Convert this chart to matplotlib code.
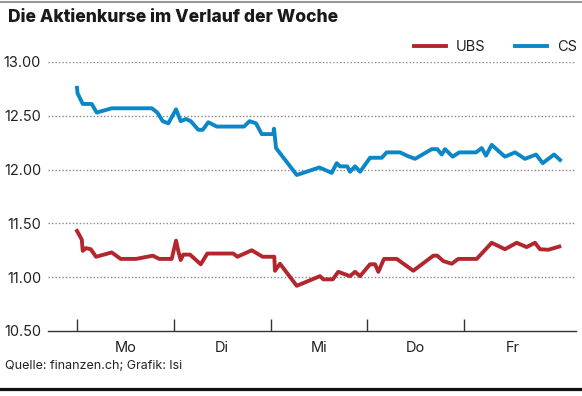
import matplotlib
matplotlib.use("Agg")
import matplotlib.pyplot as plt
from matplotlib.lines import Line2D

plt.rcParams["font.family"] = ["Inter", "DejaVu Sans"]

# Handelstage (Zeit in Tagen ab Montag-Eröffnung)
tage = ["Mo", "Di", "Mi", "Do", "Fr"]
y_ticks = [10.5, 11.0, 11.5, 12.0, 12.5, 13.0]

cs_t = [0.0, 0.005, 0.059, 0.152, 0.203, 0.358, 0.772, 0.830, 0.885, 0.943,
        1.023, 1.071, 1.126, 1.175, 1.253, 1.299, 1.356, 1.443, 1.725, 1.782,
        1.849, 1.908, 2.028, 2.035, 2.056, 2.270, 2.503, 2.631, 2.683, 2.717,
        2.792, 2.820, 2.872, 2.924, 3.027, 3.148, 3.199, 3.337, 3.406, 3.492,
        3.664, 3.722, 3.768, 3.802, 3.881, 3.949, 4.122, 4.181, 4.225, 4.284,
        4.421, 4.525, 4.628, 4.742, 4.811, 4.928, 4.990]
cs_kurs = [12.76, 12.71, 12.61, 12.61, 12.53, 12.57, 12.57, 12.53, 12.45, 12.43,
           12.56, 12.45, 12.47, 12.45, 12.37, 12.37, 12.44, 12.40, 12.40, 12.45,
           12.43, 12.33, 12.33, 12.38, 12.20, 11.95, 12.02, 11.97, 12.06, 12.03,
           12.03, 11.98, 12.03, 11.98, 12.11, 12.11, 12.16, 12.16, 12.13, 12.10,
           12.19, 12.19, 12.14, 12.19, 12.12, 12.16, 12.16, 12.20, 12.13, 12.23,
           12.12, 12.16, 12.10, 12.14, 12.06, 12.14, 12.09]

ubs_t = [0.0, 0.049, 0.059, 0.093, 0.142, 0.196, 0.358, 0.451, 0.610, 0.782,
         0.850, 0.978, 1.023, 1.047, 1.071, 1.098, 1.167, 1.278, 1.346, 1.615,
         1.656, 1.805, 1.918, 2.038, 2.045, 2.097, 2.270, 2.510, 2.544, 2.642,
         2.699, 2.820, 2.872, 2.924, 3.027, 3.079, 3.113, 3.171, 3.303, 3.474,
         3.681, 3.722, 3.784, 3.871, 3.939, 4.129, 4.284, 4.421, 4.542, 4.645,
         4.731, 4.783, 4.869, 4.982]
ubs_kurs = [11.43, 11.35, 11.245, 11.27, 11.26, 11.19, 11.23, 11.17, 11.17, 11.20,
            11.17, 11.17, 11.34, 11.24, 11.16, 11.21, 11.21, 11.12, 11.22, 11.22,
            11.19, 11.25, 11.19, 11.19, 11.06, 11.125, 10.92, 11.01, 10.98, 10.98,
            11.05, 11.01, 11.05, 11.01, 11.12, 11.12, 11.05, 11.17, 11.17, 11.06,
            11.20, 11.20, 11.15, 11.125, 11.17, 11.17, 11.32, 11.26, 11.32, 11.28,
            11.32, 11.26, 11.255, 11.285]

ROT = "#b3262e"
BLAU = "#0b87c7"
W, H = 582, 396

fig = plt.figure(figsize=(W / 100, H / 100), dpi=100)
ax = fig.add_axes([48 / W, 1 - 331 / H, (576 - 48) / W, (331 - 62) / H])

l_ubs, = ax.plot(ubs_t, ubs_kurs, color=ROT, lw=2.8, solid_joinstyle="round", label="UBS")
l_cs, = ax.plot(cs_t, cs_kurs, color=BLAU, lw=2.8, solid_joinstyle="round", label="CS")

ax.set_xlim(-0.30, 5.155)
ax.set_ylim(10.5, 13.0)
ax.set_yticks(y_ticks)
ax.set_yticklabels([f"{v:.2f}" for v in y_ticks])
for v in y_ticks[1:]:
    ax.axhline(v, color="#888888", lw=1.0, ls=(0, (1, 1.5)), zorder=0)

# Tagesgrenzen als Ticks, Tagesnamen mittig
ax.set_xticks(range(len(tage)))
ax.set_xticklabels([])
ax.set_xticks([i + 0.5 for i in range(len(tage))], minor=True)
ax.set_xticklabels(tage, minor=True)
ax.tick_params(axis="x", which="major", direction="in", length=9, width=1, color="#333333")
ax.tick_params(axis="x", which="minor", length=0, pad=7, labelsize=10.5, labelcolor="#222222")
ax.tick_params(axis="y", length=0, pad=5, labelsize=10.5, labelcolor="#222222")

for s in ["top", "right", "left"]:
    ax.spines[s].set_visible(False)
ax.spines["bottom"].set_color("#333333")
ax.spines["bottom"].set_linewidth(1.0)

ax.legend(handles=[l_ubs, l_cs], loc="center right", ncol=2, frameon=False,
          bbox_to_anchor=(577 / W, 1 - 47 / H), bbox_transform=fig.transFigure,
          borderpad=0, borderaxespad=0, handlelength=2.2, handletextpad=0.7,
          columnspacing=2.0, fontsize=10.5, labelcolor="#222222")

fig.text(8 / W, 1 - 18 / H, "Die Aktienkurse im Verlauf der Woche",
         fontsize=12.6, fontweight="heavy", va="center", color="#1a1a1a")
fig.text(5 / W, 1 - 366 / H, "Quelle: finanzen.ch; Grafik: lsi",
         fontsize=9, va="center", color="#222222")

fig.add_artist(Line2D([0, 1], [1 - 2 / H] * 2, transform=fig.transFigure,
                      color="#999999", lw=1.5))
fig.add_artist(Line2D([0, 1], [1 - 389 / H] * 2, transform=fig.transFigure,
                      color="#111111", lw=2.3))

fig.savefig("out.png", dpi=100)
